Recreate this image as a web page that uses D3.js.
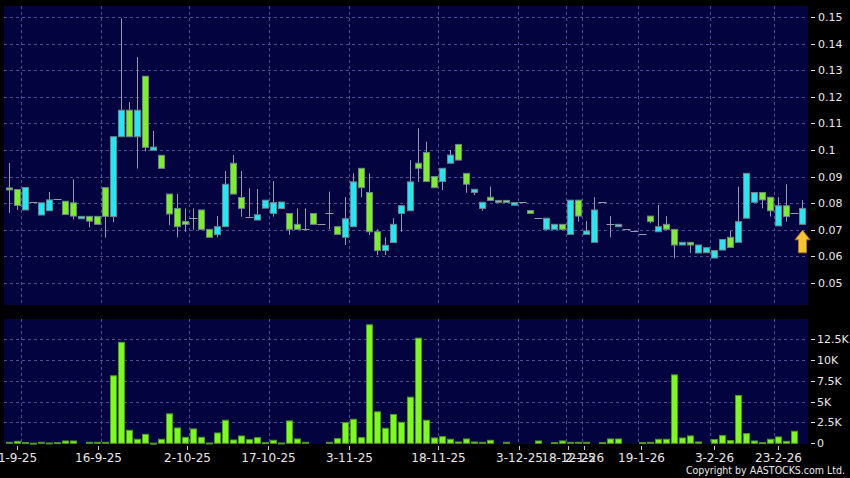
<!DOCTYPE html>
<html>
<head>
<meta charset="utf-8">
<script src="https://cdn.jsdelivr.net/npm/d3@7"></script>
<style>
  html, body { margin: 0; padding: 0; background: #000; }
  svg { display: block; }
  text { font-family: "DejaVu Sans", sans-serif; fill: #e8e8e8; }
</style>
</head>
<body>
<svg id="chart" width="850" height="478"></svg>
<script>
// ---- data ----
const opens = [
  0.0857,0.0851,0.0774,0.0804,0.0755,0.0771,0.0815,0.0807,0.0801,0.0741,
  0.0750,0.0750,0.0858,0.0749,0.1050,0.1150,0.1050,0.1278,0.0999,0.0980,
  0.0834,0.0780,0.0731,0.0743,0.0774,0.0701,0.0681,0.0711,0.0950,0.0821,
  0.0749,0.0736,0.0781,0.0761,0.0779,0.0761,0.0720,0.0701,0.0761,0.0720,
  0.0761,0.0711,0.0671,0.0711,0.0931,0.0840,0.0692,0.0621,0.0651,0.0761,
  0.0771,0.0950,0.0991,0.0900,0.0881,0.0950,0.1021,0.0912,0.0840,0.0780,
  0.0822,0.0803,0.0810,0.0792,0.0803,0.0772,0.0743,0.0701,0.0701,0.0720,
  0.0682,0.0811,0.0682,0.0652,0.0803,0.0720,0.0711,0.0701,0.0694,0.0682,
  0.0751,0.0692,0.0720,0.0701,0.0642,0.0652,0.0612,0.0613,0.0593,0.0623,
  0.0671,0.0652,0.0743,0.0803,0.0840,0.0822,0.0714,0.0790,0.0761,0.0720
];
const closes = [
  0.0853,0.0791,0.0859,0.0804,0.0801,0.0812,0.0815,0.0757,0.0751,0.0750,
  0.0732,0.0720,0.0750,0.1050,0.1150,0.1050,0.1150,0.1010,0.1011,0.0931,
  0.0759,0.0711,0.0720,0.0743,0.0701,0.0671,0.0711,0.0871,0.0834,0.0780,
  0.0749,0.0756,0.0811,0.0802,0.0804,0.0701,0.0701,0.0701,0.0720,0.0720,
  0.0761,0.0682,0.0741,0.0880,0.0858,0.0692,0.0621,0.0641,0.0720,0.0790,
  0.0880,0.0931,0.0881,0.0858,0.0931,0.0981,0.0962,0.0871,0.0852,0.0803,
  0.0810,0.0810,0.0803,0.0802,0.0803,0.0761,0.0743,0.0743,0.0720,0.0701,
  0.0811,0.0751,0.0695,0.0774,0.0803,0.0720,0.0720,0.0701,0.0694,0.0682,
  0.0730,0.0711,0.0701,0.0642,0.0652,0.0642,0.0642,0.0632,0.0621,0.0663,
  0.0633,0.0730,0.0912,0.0840,0.0812,0.0771,0.0790,0.0749,0.0761,0.0780
];
const highs = [
  0.0951,0.0851,0.0859,0.0804,0.0801,0.0842,0.0815,0.0807,0.0889,0.0750,
  0.0750,0.0750,0.0858,0.1050,0.1496,0.1180,0.1350,0.1278,0.1072,0.0980,
  0.0834,0.0834,0.0780,0.0780,0.0774,0.0701,0.0751,0.0921,0.0981,0.0921,
  0.0856,0.0853,0.0811,0.0883,0.0804,0.0761,0.0780,0.0780,0.0761,0.0720,
  0.0843,0.0711,0.0822,0.0912,0.0931,0.0912,0.0701,0.0671,0.0743,0.0790,
  0.0962,0.1082,0.1031,0.0900,0.0931,0.1000,0.1021,0.0912,0.0852,0.0803,
  0.0862,0.0810,0.0810,0.0802,0.0803,0.0772,0.0743,0.0743,0.0720,0.0720,
  0.0811,0.0811,0.0732,0.0822,0.0803,0.0751,0.0720,0.0701,0.0694,0.0682,
  0.0751,0.0793,0.0751,0.0701,0.0652,0.0652,0.0642,0.0632,0.0621,0.0663,
  0.0695,0.0862,0.0912,0.0840,0.0840,0.0822,0.0822,0.0871,0.0761,0.0811
];
const lows = [
  0.0763,0.0774,0.0774,0.0804,0.0755,0.0771,0.0815,0.0761,0.0739,0.0741,
  0.0709,0.0720,0.0670,0.0728,0.1050,0.1050,0.0930,0.0995,0.0999,0.0931,
  0.0717,0.0671,0.0692,0.0699,0.0701,0.0671,0.0671,0.0711,0.0834,0.0749,
  0.0749,0.0736,0.0781,0.0749,0.0779,0.0680,0.0701,0.0701,0.0720,0.0720,
  0.0701,0.0682,0.0642,0.0711,0.0822,0.0680,0.0604,0.0604,0.0651,0.0692,
  0.0771,0.0880,0.0881,0.0858,0.0849,0.0950,0.0962,0.0839,0.0830,0.0771,
  0.0810,0.0803,0.0803,0.0792,0.0803,0.0761,0.0743,0.0701,0.0701,0.0701,
  0.0682,0.0730,0.0682,0.0652,0.0803,0.0671,0.0711,0.0701,0.0694,0.0682,
  0.0724,0.0692,0.0701,0.0592,0.0642,0.0612,0.0612,0.0613,0.0593,0.0623,
  0.0633,0.0652,0.0743,0.0803,0.0780,0.0749,0.0714,0.0730,0.0761,0.0720
];
// volume in thousands of shares
const volumes = [
  0.12,0.24,0.08,0.02,0.12,0.04,0.08,0.28,0.28,0.00,
  0.12,0.12,0.12,8.09,12.1,1.56,0.48,1.08,0.02,0.48,
  3.53,1.84,0.72,1.72,0.72,0.04,1.24,2.76,0.40,0.88,
  0.44,0.68,0.08,0.36,0.04,2.68,0.52,0.12,0.00,0.00,
  0.12,0.56,2.48,2.88,0.68,14.2,3.77,1.80,3.45,2.52,
  5.53,12.6,2.76,0.64,0.80,0.48,0.16,0.52,0.16,0.12,
  0.36,0.00,0.12,0.00,0.00,0.00,0.28,0.00,0.08,0.28,
  0.12,0.12,0.12,0.00,0.08,0.52,0.52,0.00,0.00,0.08,
  0.12,0.48,0.48,8.20,0.64,0.88,0.16,0.00,0.44,0.92,
  0.32,5.73,1.16,0.28,0.08,0.48,0.76,0.24,1.44,0.00
];
const dateLabels = ["1-9-25","16-9-25","2-10-25","17-10-25","3-11-25","18-11-25",
                    "3-12-25","18-12-25","2-1-26","19-1-26","3-2-26","23-2-26"];
const dateLabelIdx = [1, 11, 22, 32, 42, 53, 63, 69, 71, 78, 87, 95];
const priceTicks = [0.05,0.06,0.07,0.08,0.09,0.10,0.11,0.12,0.13,0.14,0.15];
const priceTickLabels = ["0.05","0.06","0.07","0.08","0.09","0.1","0.11","0.12","0.13","0.14","0.15"];
const volTicks = [0, 2.5, 5, 7.5, 10, 12.5];
const volTickLabels = ["0","2.5K","5K","7.5K","10K","12.5K"];

// ---- layout ----
const W = 850, H = 478;
const P = { left: 4, right: 808, top: 6, bottom: 305 };
const V = { top: 319, bottom: 444 };
const N = opens.length;

const COL_UP = "#1fe9f5", COL_DN = "#7cf026", COL_BG = "#03033f", COL_GRID = "#4e4e96";

const svg = d3.select("#chart");
svg.append("rect").attr("width", W).attr("height", H).attr("fill", "#000");

const idx = d3.range(N);
const x = d3.scaleBand().domain(idx).range([4.5, 806.5]).paddingInner(0).paddingOuter(0);
const step = x.step();
const cx = i => x(i) + step / 2;
// date axis positions (labels sit on a slightly wider scale than the grid)
const xTick = d3.scaleLinear().domain([-0.5, N - 0.5]).range([4.69, 4.69 + N * 8.102]);

const y = d3.scaleLinear().domain([0.05, 0.15]).range([282.7, 17.3]);
const yv = d3.scaleLinear().domain([0, 12.5]).range([443.3, 339]);

// panels
svg.append("rect").attr("x", P.left).attr("y", P.top).attr("width", P.right - P.left)
  .attr("height", P.bottom - P.top).attr("fill", COL_BG);
svg.append("rect").attr("x", P.left).attr("y", V.top).attr("width", P.right - P.left)
  .attr("height", V.bottom - V.top).attr("fill", COL_BG);

// grids
const gridG = svg.append("g").attr("stroke", COL_GRID).attr("stroke-width", 1)
  .attr("stroke-dasharray", "3,3").attr("fill", "none");
priceTicks.forEach(p => {
  gridG.append("line").attr("x1", P.left).attr("x2", P.right)
    .attr("y1", Math.round(y(p)) + 0.5).attr("y2", Math.round(y(p)) + 0.5);
});
volTicks.slice(1).forEach(v => {
  gridG.append("line").attr("x1", P.left).attr("x2", P.right)
    .attr("y1", Math.round(yv(v)) + 0.5).attr("y2", Math.round(yv(v)) + 0.5);
});
dateLabelIdx.forEach(k => {
  const gx = Math.round(x(k) + step) + 0.5;
  gridG.append("line").attr("x1", gx).attr("x2", gx).attr("y1", P.top).attr("y2", P.bottom);
  gridG.append("line").attr("x1", gx).attr("x2", gx).attr("y1", V.top).attr("y2", V.bottom);
});

// candles
const data = idx.map(i => ({ i, o: opens[i], h: highs[i], l: lows[i], c: closes[i], v: volumes[i] }));
const cg = svg.append("g");
const bw = 6;
data.forEach(d => {
  const xc = Math.round(cx(d.i)) + 0.5;
  if (d.h > d.l) {
    cg.append("line").attr("x1", xc).attr("x2", xc).attr("y1", y(d.h)).attr("y2", y(d.l))
      .attr("stroke", "#9a9aa6").attr("stroke-width", 1);
  }
  if (d.o === d.c) {
    cg.append("line").attr("x1", xc - step / 2).attr("x2", xc + step / 2)
      .attr("y1", Math.round(y(d.o)) + 0.5).attr("y2", Math.round(y(d.o)) + 0.5)
      .attr("stroke", "#9a9aa6").attr("stroke-width", 1);
  } else {
    const top = y(Math.max(d.o, d.c)), bot = y(Math.min(d.o, d.c));
    cg.append("rect").attr("x", xc - bw / 2).attr("y", top)
      .attr("width", bw).attr("height", Math.max(2, bot - top))
      .attr("fill", d.c > d.o ? COL_UP : COL_DN)
      .attr("stroke", "#6f8486").attr("stroke-width", 1);
  }
});

// volume bars
const vg = svg.append("g");
data.forEach(d => {
  if (d.v <= 0) return;
  const xc = Math.round(cx(d.i)) + 0.5;
  const top = yv(d.v);
  vg.append("rect").attr("x", xc - 3).attr("y", top).attr("width", 6)
    .attr("height", Math.max(1, yv(0) - top))
    .attr("fill", "#7cfc1c").attr("stroke", "#4f9a1e").attr("stroke-width", 1);
});

// arrow under the latest candle
const last = data[N - 1];
const ax = cx(last.i), ay = y(last.l) + 6;
svg.append("path")
  .attr("d", `M${ax},${ay} L${ax + 7.5},${ay + 9.5} L${ax + 4},${ay + 9.5} L${ax + 4},${ay + 22.5} L${ax - 4},${ay + 22.5} L${ax - 4},${ay + 9.5} L${ax - 7.5},${ay + 9.5} Z`)
  .attr("fill", "#f6c531").attr("stroke", "#b07810").attr("stroke-width", 1);

// right axes
const axG = svg.append("g").style("font-size", "11px");
priceTicks.forEach((p, k) => {
  const yy = Math.round(y(p)) + 0.5;
  axG.append("line").attr("x1", 811).attr("x2", 815).attr("y1", yy).attr("y2", yy).attr("stroke", "#ddd");
  axG.append("text").attr("x", 818).attr("y", yy).attr("dy", "0.35em").text(priceTickLabels[k]);
});
volTicks.forEach((v, k) => {
  const yy = Math.round(yv(v)) + 0.5;
  axG.append("line").attr("x1", 811).attr("x2", 815).attr("y1", yy).attr("y2", yy).attr("stroke", "#ddd");
  axG.append("text").attr("x", 817).attr("y", yy).attr("dy", "0.35em").text(volTickLabels[k]);
});

// date axis
const dG = svg.append("g").style("font-size", "12px");
dateLabelIdx.forEach((k, j) => {
  const tx = Math.round(xTick(k)) + 0.5;
  dG.append("line").attr("x1", tx).attr("x2", tx).attr("y1", 446).attr("y2", 450).attr("stroke", "#ccc");
  dG.append("text").attr("x", tx).attr("y", 462).attr("text-anchor", "middle").text(dateLabels[j]);
});

svg.append("text").attr("x", 845).attr("y", 474).attr("text-anchor", "end")
  .style("font-family", "'DejaVu Sans Condensed', 'DejaVu Sans', sans-serif")
  .style("font-size", "10.5px").text("Copyright by AASTOCKS.com Ltd.");
</script>
</body>
</html>
